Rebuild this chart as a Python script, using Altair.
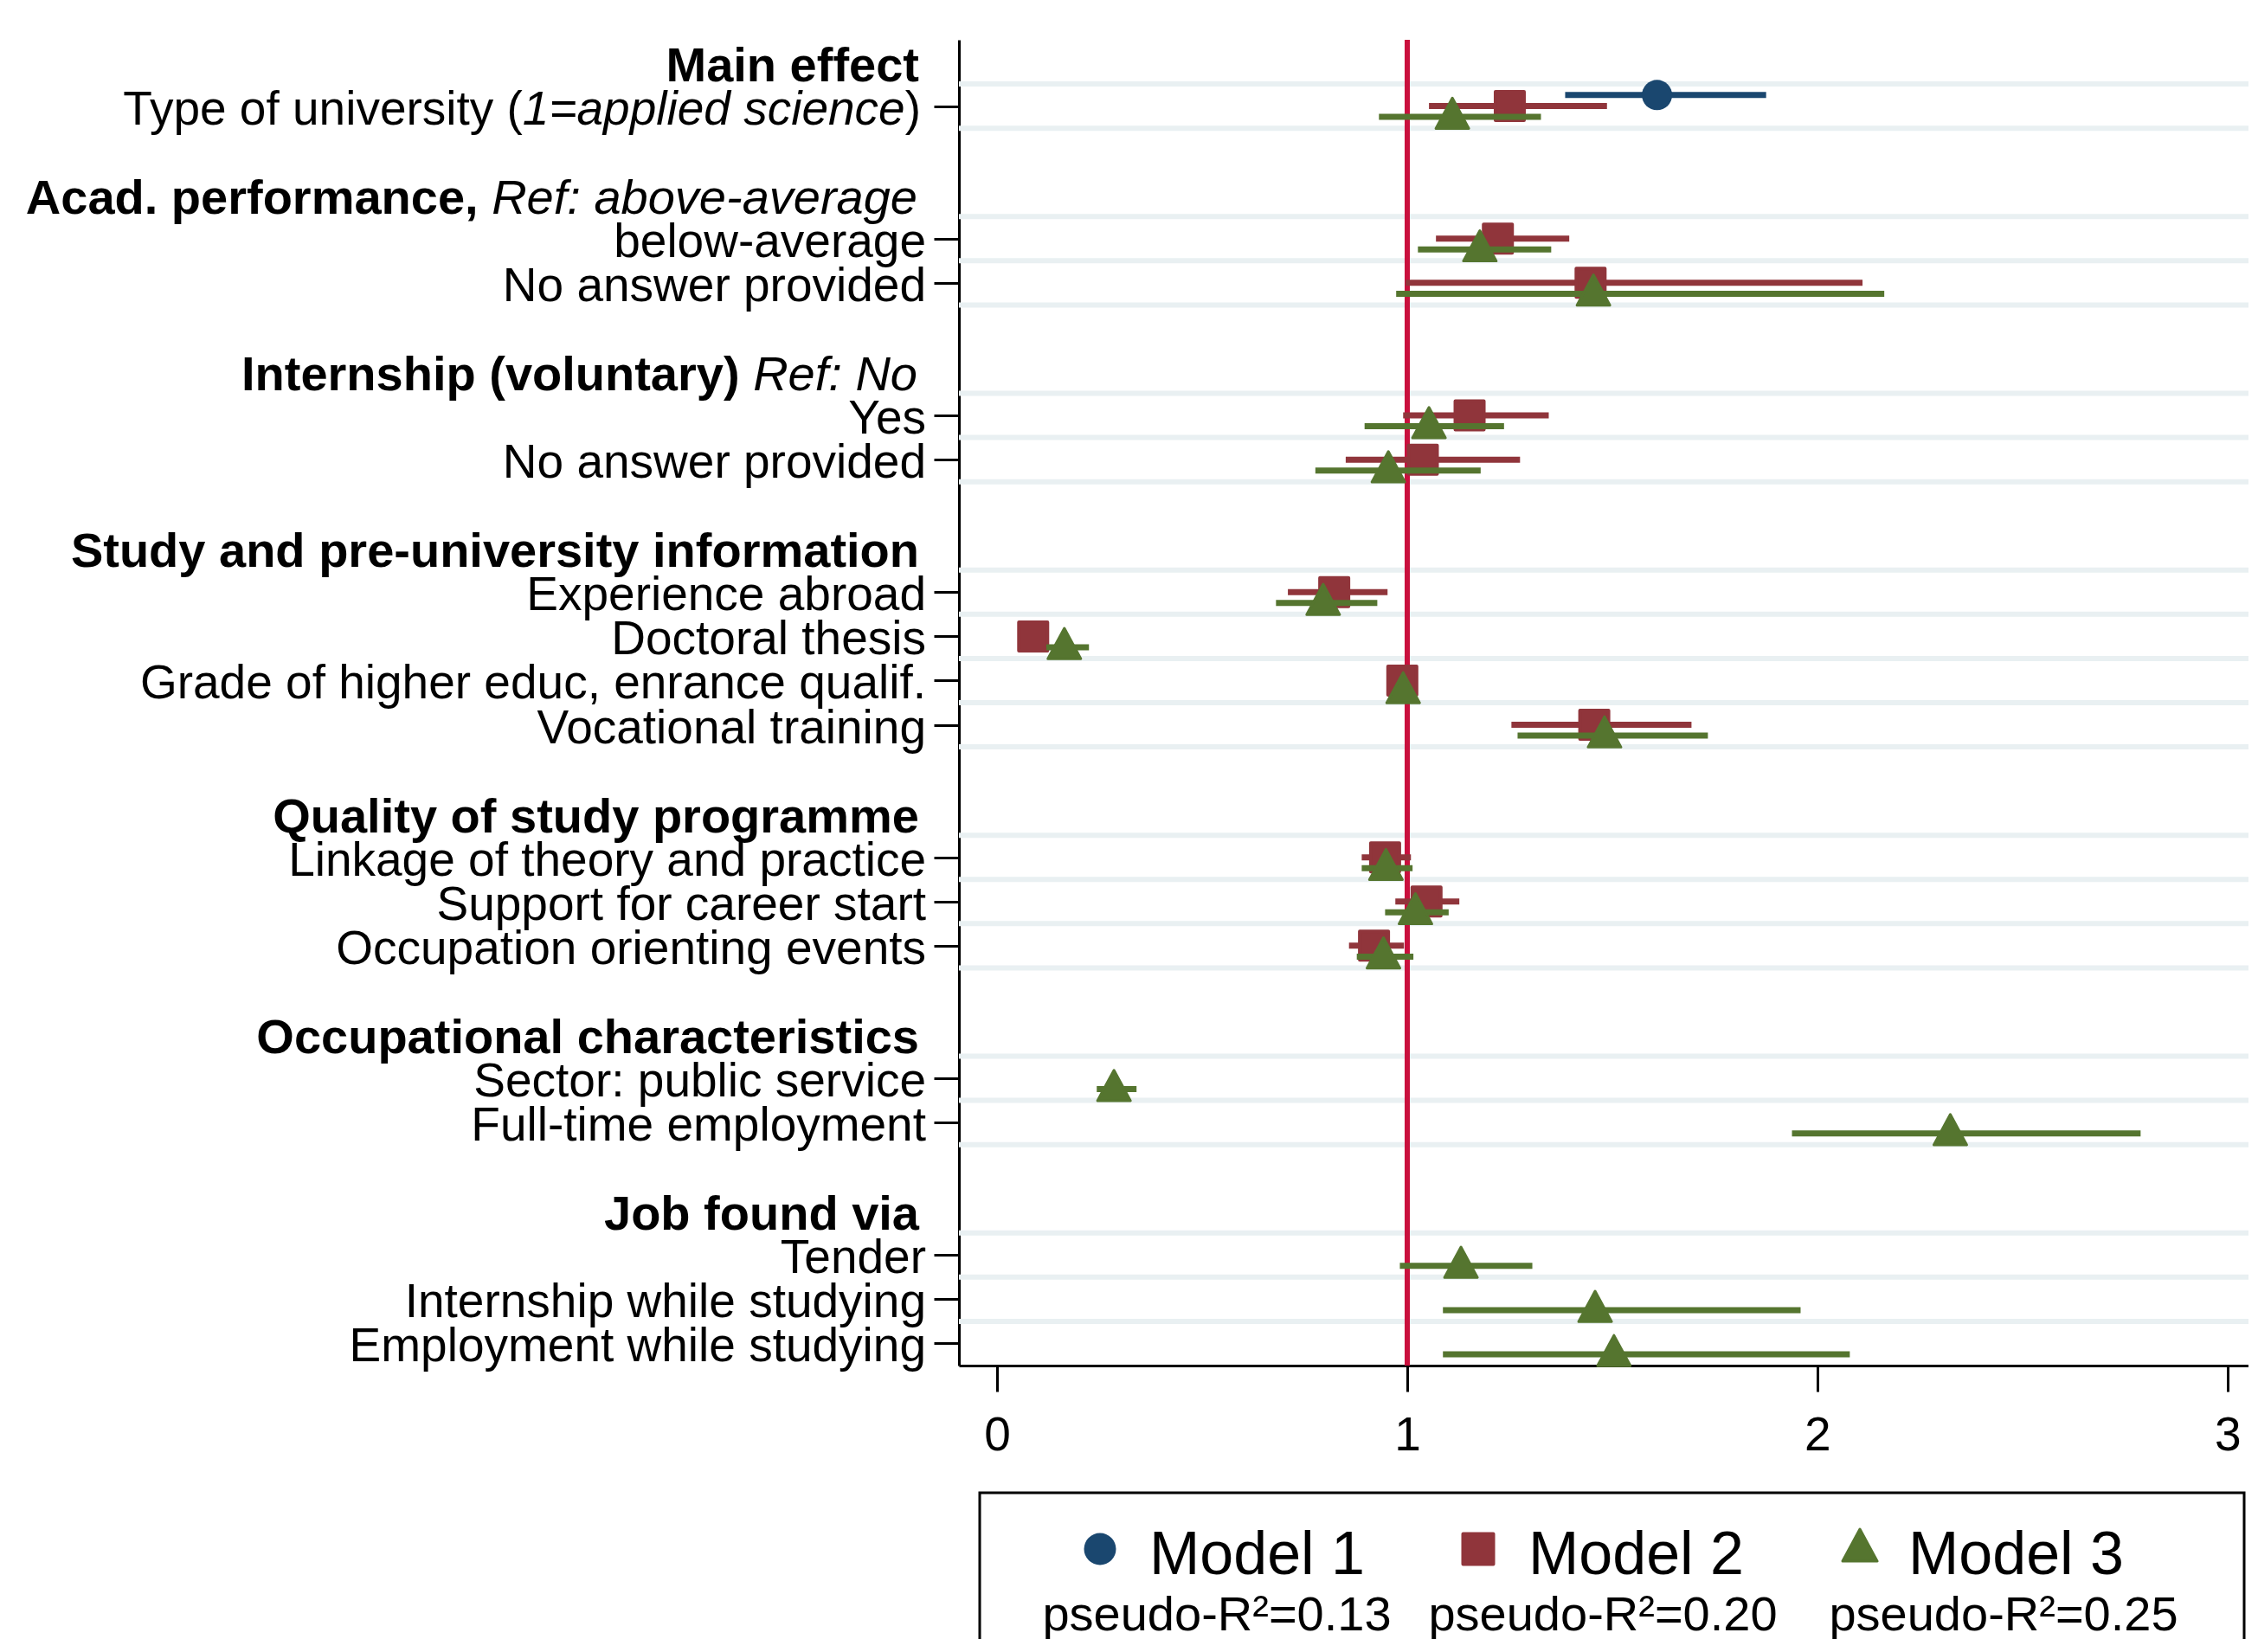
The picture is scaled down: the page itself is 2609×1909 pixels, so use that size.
import altair as alt
import pandas as pd

FONT = "Liberation Sans"

# ---------------- data ----------------
group_headers = ["Main effect", "Acad. performance,", "Internship (voluntary)",
                 "Study and pre-university information", "Quality of study programme",
                 "Occupational characteristics", "Job found via"]
group_header_italic = ["", "Ref: above-average", "Ref: No", "", "", "", ""]

item_labels = ["Type of university (1=applied science)",
               "below-average", "No answer provided",
               "Yes", "No answer provided",
               "Experience abroad", "Doctoral thesis",
               "Grade of higher educ, enrance qualif.", "Vocational training",
               "Linkage of theory and practice", "Support for career start",
               "Occupation orienting events",
               "Sector: public service", "Full-time employment",
               "Tender", "Internship while studying", "Employment while studying"]
item_group = [0, 1, 1, 2, 2, 3, 3, 3, 3, 4, 4, 4, 5, 5, 6, 6, 6]
item_italic_part = ["1=applied science"] + [""] * 16

models = ["Model 1", "Model 2", "Model 3"]
pseudo_r2 = ["pseudo-R²=0.13", "pseudo-R²=0.20", "pseudo-R²=0.25"]

N = None
m1_est = [1.609, N, N, N, N, N, N, N, N, N, N, N, N, N, N, N, N]
m1_lo = [1.385, N, N, N, N, N, N, N, N, N, N, N, N, N, N, N, N]
m1_hi = [1.875, N, N, N, N, N, N, N, N, N, N, N, N, N, N, N, N]

m2_est = [1.250, 1.221, 1.447, 1.152, 1.038, 0.822, 0.088, 0.988, 1.456, 0.946, 1.047, 0.919, N, N, N, N, N]
m2_lo = [1.053, 1.070, 0.996, 0.990, 0.850, 0.709, 0.068, 0.980, 1.254, 0.889, 0.971, 0.858, N, N, N, N, N]
m2_hi = [1.487, 1.395, 2.110, 1.345, 1.275, 0.952, 0.108, 0.996, 1.693, 1.009, 1.127, 0.992, N, N, N, N, N]

m3_est = [1.110, 1.177, 1.454, 1.053, 0.954, 0.795, 0.164, 0.990, 1.481, 0.948, 1.020, 0.942, 0.285, 2.324, 1.131, 1.458, 1.504]
m3_lo = [0.931, 1.026, 0.973, 0.896, 0.776, 0.680, 0.120, 0.982, 1.269, 0.889, 0.946, 0.877, 0.243, 1.938, 0.982, 1.087, 1.087]
m3_hi = [1.326, 1.351, 2.163, 1.236, 1.179, 0.927, 0.224, 0.998, 1.733, 1.013, 1.101, 1.015, 0.340, 2.788, 1.305, 1.959, 2.079]

x_ticks = [0, 1, 2, 3]
ref_value = [1]

# ---------------- styling ----------------
COLORS = ["#1a476f", "#90353b", "#55752f"]
REDLINE = "#c9103d"
GRID = "#e9f0f2"
TRI = "M0,-1.15L1,0.7L-1,0.7Z"
model_offset = [-0.25, 0.0, 0.245]

W, H = 1490, 1532

# ---------------- row layout ----------------
header_row, item_row = [], []
r = 0
for g in range(len(group_headers)):
    if g > 0:
        r += 1
    header_row.append(r)
    r += 1
    for i, ig in enumerate(item_group):
        if ig == g:
            item_row.append(r)
            r += 1
n_rows = r

yscale = alt.Scale(domain=[-0.5, n_rows - 0.5], reverse=True, nice=False, zero=False)
yaxis = alt.Axis(values=item_row, labels=False, tickSize=29, tickWidth=3, tickColor="black",
                 domainWidth=3, domainColor="black", grid=False, title=None)
xscale = alt.Scale(domain=[-0.093, 3.051], nice=False, zero=False)
xaxis = alt.Axis(values=x_ticks, format="d", labelFontSize=55, labelFont=FONT, labelColor="black",
                 labelPadding=24, labelFlush=False, tickSize=30, tickWidth=3, tickColor="black",
                 domainWidth=3, domainColor="black", grid=False, title=None)


def Y():
    return alt.Y("pos:Q", scale=yscale, axis=yaxis)


def X(f):
    return alt.X(f"{f}:Q", scale=xscale, axis=xaxis)


# ---------------- text width (Arial / Liberation Sans metrics) ----------------
AW = {' ': 278, '(': 333, ')': 333, '1': 556, '=': 584, 'a': 556, 'p': 556, 'l': 222, 'i': 222,
      'e': 556, 'd': 556, 's': 500, 'c': 500, 'n': 556, 'R': 722, 'f': 278, ':': 278, 'b': 556,
      'o': 556, 'v': 500, 'r': 333, 'g': 556, '-': 333, 'N': 722}


def tw(s, fs):
    return sum(AW.get(c, 556) for c in s) * fs / 1000.0


layers = []

# grid lines
grid_rows = sorted(header_row + item_row)[:-1]
grid_df = pd.DataFrame({"pos": [g + 0.5 for g in grid_rows]})
layers.append(alt.Chart(grid_df).mark_rule(color=GRID, strokeWidth=6).encode(
    y=Y(), x=alt.value(0), x2=alt.value(W)))

# reference line
layers.append(alt.Chart(pd.DataFrame({"ref": ref_value})).mark_rule(color=REDLINE, strokeWidth=6).encode(
    x=X("ref"), y=alt.value(0), y2=alt.value(H)))

# coefficients
series = [(m1_est, m1_lo, m1_hi), (m2_est, m2_lo, m2_hi), (m3_est, m3_lo, m3_hi)]
for m, (est, lo, hi) in enumerate(series):
    recs = []
    for i in range(len(item_labels)):
        if est[i] is None:
            continue
        recs.append({"model": models[m], "est": est[i], "lo": lo[i], "hi": hi[i],
                     "pos": item_row[i] + model_offset[m]})
    df = pd.DataFrame(recs)
    layers.append(alt.Chart(df).mark_rule(color=COLORS[m], strokeWidth=7, strokeCap="butt").encode(
        x=X("lo"), x2="hi:Q", y=Y()))
    if m == 0:
        pt = alt.Chart(df).mark_point(shape="circle", filled=True, size=1225, color=COLORS[m], opacity=1)
    elif m == 1:
        pt = alt.Chart(df).mark_point(shape="square", filled=True, size=1089, color=COLORS[m],
                                      stroke=COLORS[m], strokeWidth=4, strokeJoin="round", opacity=1)
    else:
        pt = alt.Chart(df).mark_point(shape=TRI, filled=True, size=1444, color=COLORS[m],
                                      stroke=COLORS[m], strokeWidth=3, strokeJoin="round", opacity=1)
    layers.append(pt.encode(x=X("est"), y=Y()))


# ---------------- labels ----------------
def text_layer(df, x, dx=0.0, weight="normal", style="normal", fs=55, dy=21):
    return alt.Chart(df).mark_text(align="right", baseline="alphabetic", dx=dx, dy=dy, font=FONT,
                                   fontSize=fs, fontWeight=weight, fontStyle=style,
                                   color="black").encode(x=alt.value(x), y=Y(), text="text:N")


ITEM_R = -38
HEAD_R = -46
FS = 55
HFS = 56

plain_items = [i for i in range(len(item_labels)) if item_italic_part[i] == ""]
layers.append(text_layer(pd.DataFrame({"pos": [item_row[i] for i in plain_items],
                                       "text": [item_labels[i] for i in plain_items]}), ITEM_R, fs=FS))

for i in range(len(item_labels)):
    ital = item_italic_part[i]
    if not ital:
        continue
    k = item_labels[i].find(ital)
    pre, post = item_labels[i][:k], item_labels[i][k + len(ital):]
    R = ITEM_R - 6
    d_post = pd.DataFrame({"pos": [item_row[i]], "text": [post]})
    d_ital = pd.DataFrame({"pos": [item_row[i]], "text": [ital]})
    d_pre = pd.DataFrame({"pos": [item_row[i]], "text": [pre]})
    layers.append(text_layer(d_post, R, fs=FS))
    layers.append(text_layer(d_ital, R, dx=-tw(post, FS), style="italic", fs=FS))
    layers.append(text_layer(d_pre, R, dx=-(tw(post, FS) + tw(ital, FS)), fs=FS))

plain_heads = [g for g in range(len(group_headers)) if group_header_italic[g] == ""]
layers.append(text_layer(pd.DataFrame({"pos": [header_row[g] for g in plain_heads],
                                       "text": [group_headers[g] for g in plain_heads]}),
                         HEAD_R, weight="bold", fs=HFS, dy=22))
for g in range(len(group_headers)):
    ital = group_header_italic[g]
    if not ital:
        continue
    R = HEAD_R - 2
    d_it = pd.DataFrame({"pos": [header_row[g]], "text": [ital]})
    d_b = pd.DataFrame({"pos": [header_row[g]], "text": [group_headers[g]]})
    layers.append(text_layer(d_it, R, style="italic", fs=HFS, dy=22))
    layers.append(text_layer(d_b, R, dx=-(tw(ital, HFS) + tw(" ", HFS)), weight="bold", fs=HFS, dy=22))

# ---------------- legend ----------------
one = pd.DataFrame({"k": [0]})
layers.append(alt.Chart(one).mark_rect(fill="white", fillOpacity=0, stroke="black", strokeWidth=3).encode(
    x=alt.value(24), x2=alt.value(1485), y=alt.value(1679), y2=alt.value(1950)))

leg_sym_x = [163, 600, 1041]
leg_lab_x = [220, 658, 1097]
leg_r2_x = [298, 744, 1207]
LEG_Y = 1744
for m in range(3):
    if m == 0:
        sym = alt.Chart(one).mark_point(shape="circle", filled=True, size=1369, color=COLORS[m], opacity=1)
    elif m == 1:
        sym = alt.Chart(one).mark_point(shape="square", filled=True, size=1225, color=COLORS[m],
                                        stroke=COLORS[m], strokeWidth=4, strokeJoin="round", opacity=1)
    else:
        sym = alt.Chart(one).mark_point(shape=TRI, filled=True, size=1600, color=COLORS[m],
                                        stroke=COLORS[m], strokeWidth=3, strokeJoin="round", opacity=1)
    layers.append(sym.encode(x=alt.value(leg_sym_x[m]), y=alt.value(LEG_Y)))
    layers.append(alt.Chart(pd.DataFrame({"text": [models[m]]})).mark_text(
        align="left", baseline="alphabetic", font=FONT, fontSize=70, color="black").encode(
        x=alt.value(leg_lab_x[m]), y=alt.value(1773), text="text:N"))
    layers.append(alt.Chart(pd.DataFrame({"text": [pseudo_r2[m]]})).mark_text(
        align="center", baseline="alphabetic", font=FONT, fontSize=56, color="black").encode(
        x=alt.value(leg_r2_x[m]), y=alt.value(1838), text="text:N"))

chart = alt.layer(*layers).properties(
    width=W, height=H,
    autosize=alt.AutoSizeParams(type="none"),
    padding={"left": 1100, "top": 38, "right": 0, "bottom": 316},
    background="white",
).configure_view(strokeWidth=0)

chart.save("out.html", embed_options={"renderer": "svg", "actions": False})
